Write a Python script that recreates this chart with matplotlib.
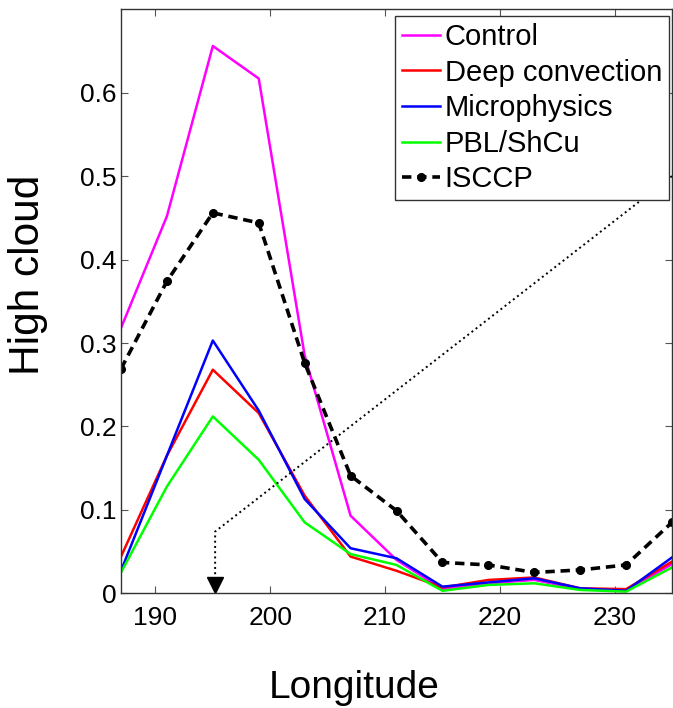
import matplotlib
matplotlib.use("Agg")
import matplotlib.pyplot as plt
import numpy as np

plt.rcParams['font.family'] = ['Liberation Sans', 'DejaVu Sans']

longitude = [187, 191, 195, 199, 203, 207, 211, 215, 219, 223, 227, 231, 235]
control = [0.318, 0.452, 0.656, 0.617, 0.285, 0.093, 0.040, 0.005, 0.012, 0.016, 0.005, 0.003, 0.035]
deep_convection = [0.044, 0.165, 0.268, 0.216, 0.117, 0.044, 0.027, 0.007, 0.016, 0.019, 0.006, 0.005, 0.038]
microphysics = [0.027, 0.165, 0.303, 0.219, 0.113, 0.054, 0.042, 0.008, 0.013, 0.018, 0.006, 0.003, 0.043]
pbl_shcu = [0.025, 0.128, 0.212, 0.160, 0.085, 0.047, 0.034, 0.003, 0.010, 0.012, 0.004, 0.002, 0.031]
isccp = [0.269, 0.374, 0.456, 0.444, 0.276, 0.141, 0.099, 0.037, 0.034, 0.025, 0.028, 0.034, 0.085]

series_labels = ["Control", "Deep convection", "Microphysics", "PBL/ShCu", "ISCCP"]
xticks = [190, 200, 210, 220, 230]
yticks = [0, 0.1, 0.2, 0.3, 0.4, 0.5, 0.6]
ytick_labels = ["0", "0.1", "0.2", "0.3", "0.4", "0.5", "0.6"]

# annotation arrow path (longitude, value)
arrow_x = [235, 195.2, 195.2]
arrow_y = [0.5, 0.074, 0.02]
arrow_tip = (195.2, 0.0101)

W, H = 673, 708
fig = plt.figure(figsize=(W / 100, H / 100), dpi=100)
ax = fig.add_axes([121 / W, (H - 593.3) / H, 551 / W, 584 / H])

lw = 1.8
ax.plot(longitude, control, color='#FF00FF', lw=lw, label=series_labels[0])
ax.plot(longitude, deep_convection, color='#FF0000', lw=lw, label=series_labels[1])
ax.plot(longitude, microphysics, color='#0000FF', lw=lw, label=series_labels[2])
ax.plot(longitude, pbl_shcu, color='#00FF00', lw=lw, label=series_labels[3])
ax.plot(longitude, isccp, color='black', lw=2.6, ls=(0, (2.6, 1.6)), marker='o',
        ms=5.5, label=series_labels[4])

ax.plot(arrow_x, arrow_y, color='black', lw=1.4, ls=(0, (1, 1.7)))
ax.plot([arrow_tip[0]], [arrow_tip[1]], marker='v', ms=11, color='black', clip_on=False)

ax.set_xlim(187, 235)
ax.set_ylim(0, 0.7)
ax.set_xticks(xticks)
ax.set_xticklabels([str(t) for t in xticks])
ax.set_yticks(yticks)
ax.set_yticklabels(ytick_labels)

ax.tick_params(direction='in', length=5, width=0.8, color='#555555', top=True, right=True,
               labelsize=19)
ax.tick_params(axis='x', pad=9)
ax.tick_params(axis='y', pad=3)
for s in ax.spines.values():
    s.set_color('#333333')
    s.set_linewidth(1.0)

ax.set_xlabel("Longitude", fontsize=28, labelpad=29)
ax.xaxis.label.set_x(0.423)
ax.set_ylabel("High cloud", fontsize=30.5, labelpad=23)
ax.yaxis.label.set_y(0.545)

leg = ax.legend(loc='upper right', bbox_to_anchor=(0.9946, 0.9885), borderaxespad=0,
                fontsize=21, handlelength=1.3, handletextpad=0.17, labelspacing=0.26,
                borderpad=0.24, fancybox=False, framealpha=1, edgecolor='#333333',
                numpoints=1)
leg.get_frame().set_linewidth(1.0)

fig.savefig("out.png", dpi=100)
